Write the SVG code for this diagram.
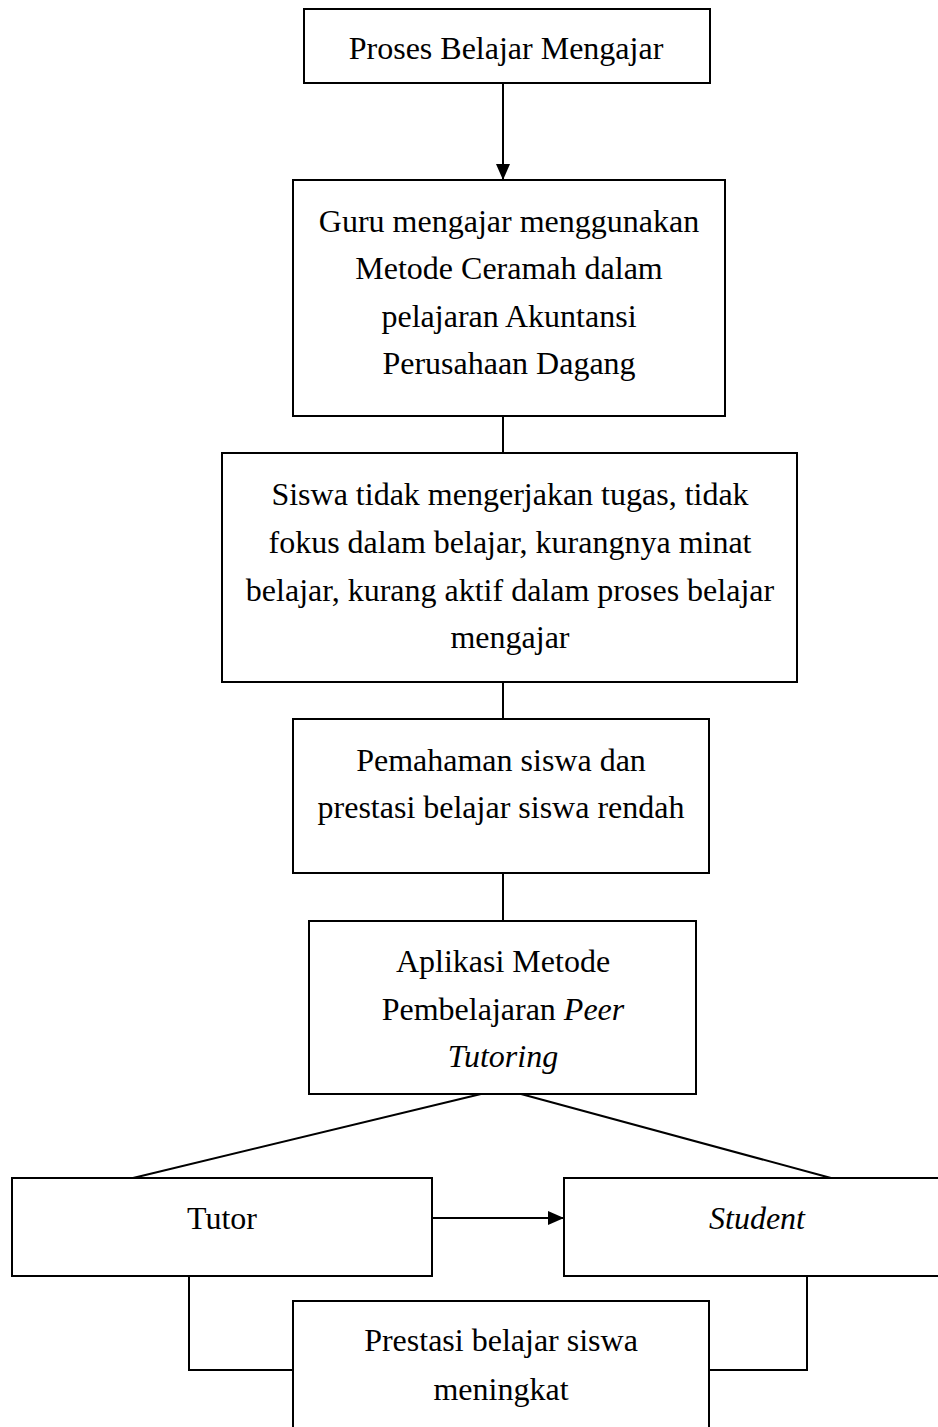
<svg xmlns="http://www.w3.org/2000/svg" width="938" height="1427" viewBox="0 0 938 1427">
<defs>
<style>
.box{fill:#fff;stroke:#000;stroke-width:2}
.ln{fill:none;stroke:#000;stroke-width:2}
text{font-family:"Liberation Serif","Times New Roman",serif;font-size:32px;fill:#000;text-anchor:middle}
.i{font-style:italic}
</style>
<marker id="ah" viewBox="0 0 16 14" refX="16" refY="7" markerWidth="16" markerHeight="14" markerUnits="userSpaceOnUse" orient="auto">
<path d="M0,0 L16,7 L0,14 Z" fill="#000"/>
</marker>
</defs>
<rect width="938" height="1427" fill="#fff"/>
<g id="connectors">
<line class="ln" x1="503" y1="83" x2="503" y2="180" marker-end="url(#ah)"/>
<line class="ln" x1="503" y1="416" x2="503" y2="453"/>
<line class="ln" x1="503" y1="682" x2="503" y2="719"/>
<line class="ln" x1="503" y1="873" x2="503" y2="921"/>
<line class="ln" x1="481" y1="1094" x2="133" y2="1178"/>
<line class="ln" x1="521" y1="1094" x2="831" y2="1178"/>
<line class="ln" x1="432" y1="1218" x2="564" y2="1218" marker-end="url(#ah)"/>
<polyline class="ln" points="189,1276 189,1370 293,1370"/>
<polyline class="ln" points="807,1276 807,1370 709,1370"/>
</g>
<g id="n1">
<rect class="box" x="304" y="9" width="406" height="74"/>
<text x="506" y="59">Proses Belajar Mengajar</text>
</g>
<g id="n2">
<rect class="box" x="293" y="180" width="432" height="236"/>
<text x="509" y="232">Guru mengajar menggunakan</text>
<text x="509" y="279">Metode Ceramah dalam</text>
<text x="509" y="327">pelajaran Akuntansi</text>
<text x="509" y="374">Perusahaan Dagang</text>
</g>
<g id="n3">
<rect class="box" x="222" y="453" width="575" height="229"/>
<text x="510" y="505">Siswa tidak mengerjakan tugas, tidak</text>
<text x="510" y="553">fokus dalam belajar, kurangnya minat</text>
<text x="510" y="601">belajar, kurang aktif dalam proses belajar</text>
<text x="510" y="648">mengajar</text>
</g>
<g id="n4">
<rect class="box" x="293" y="719" width="416" height="154"/>
<text x="501" y="771">Pemahaman siswa dan</text>
<text x="501" y="818">prestasi belajar siswa rendah</text>
</g>
<g id="n5">
<rect class="box" x="309" y="921" width="387" height="173"/>
<text x="503" y="972">Aplikasi Metode</text>
<text x="503" y="1020">Pembelajaran <tspan class="i">Peer</tspan></text>
<text x="503" y="1067" class="i">Tutoring</text>
</g>
<g id="n6">
<rect class="box" x="12" y="1178" width="420" height="98"/>
<text x="222" y="1229">Tutor</text>
</g>
<g id="n7">
<rect class="box" x="564" y="1178" width="390" height="98"/>
<text x="757" y="1229" class="i">Student</text>
</g>
<g id="n8">
<rect class="box" x="293" y="1301" width="416" height="140"/>
<text x="501" y="1351">Prestasi belajar siswa</text>
<text x="501" y="1400">meningkat</text>
</g>
</svg>
